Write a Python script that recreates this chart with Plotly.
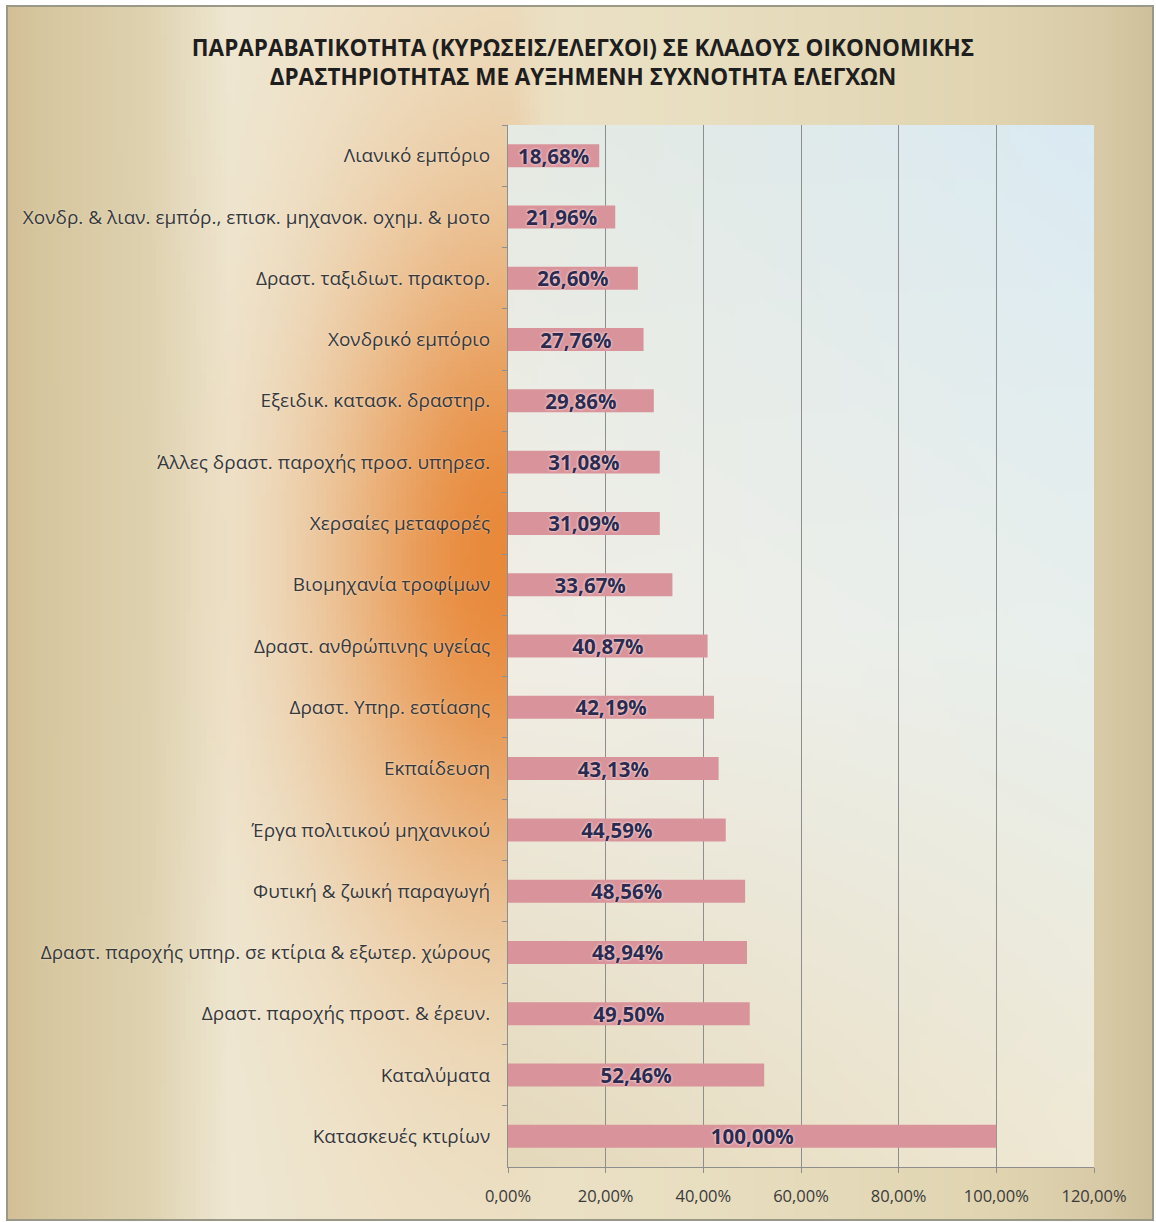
import numpy as np
import plotly.graph_objects as go

# ---------------- data ----------------
categories = [
    "Λιανικό εμπόριο",
    "Χονδρ. & λιαν. εμπόρ., επισκ. μηχανοκ. οχημ. & μοτο",
    "Δραστ. ταξιδιωτ. πρακτορ.",
    "Χονδρικό εμπόριο",
    "Εξειδικ. κατασκ. δραστηρ.",
    "Άλλες δραστ. παροχής προσ. υπηρεσ.",
    "Χερσαίες μεταφορές",
    "Βιομηχανία τροφίμων",
    "Δραστ. ανθρώπινης υγείας",
    "Δραστ. Υπηρ. εστίασης",
    "Εκπαίδευση",
    "Έργα πολιτικού μηχανικού",
    "Φυτική & ζωική παραγωγή",
    "Δραστ. παροχής υπηρ. σε κτίρια & εξωτερ. χώρους",
    "Δραστ. παροχής προστ. & έρευν.",
    "Καταλύματα",
    "Κατασκευές κτιρίων",
]
values = [18.68, 21.96, 26.60, 27.76, 29.86, 31.08, 31.09, 33.67, 40.87,
          42.19, 43.13, 44.59, 48.56, 48.94, 49.50, 52.46, 100.00]
tick_values = [0, 20, 40, 60, 80, 100, 120]
tick_labels = ["0,00%", "20,00%", "40,00%", "60,00%", "80,00%", "100,00%", "120,00%"]
title_text = ("ΠΑΡΑΡΑΒΑΤΙΚΟΤΗΤΑ (ΚΥΡΩΣΕΙΣ/ΕΛΕΓΧΟΙ) ΣΕ ΚΛΑΔΟΥΣ ΟΙΚΟΝΟΜΙΚΗΣ<br>"
              "ΔΡΑΣΤΗΡΙΟΤΗΤΑΣ ΜΕ ΑΥΞΗΜΕΝΗ ΣΥΧΝΟΤΗΤΑ ΕΛΕΓΧΩΝ")
value_labels = [f"{v:.2f}".replace(".", ",") + "%" for v in values]

# ---------------- geometry (pixels) ----------------
W, H = 1156, 1222
PL, PR, PT, PB = 508, 1094, 125, 1167
FONT = "Open Sans"


def profile(xs, pts):
    px = [p[0] for p in pts]
    return np.stack([np.interp(xs, px, [p[1][c] for p in pts]) for c in range(3)], axis=-1)


# ---------- decorative background (chart area) ----------
BX0, BX1, BY0, BY1 = 7, 1153, 6, 1220
nbx, nby = 230, 243
dxb = (BX1 - BX0) / nbx
dyb = (BY1 - BY0) / nby
xc = BX0 + (np.arange(nbx) + 0.5) * dxb
yc = BY0 + (np.arange(nby) + 0.5) * dyb
base = profile(xc, [
    (7, (210, 190, 150)), (40, (214, 198, 158)), (150, (222, 210, 176)),
    (230, (238, 231, 210)), (400, (238, 226, 200)), (700, (232, 222, 192)),
    (1000, (224, 212, 176)), (1100, (216, 202, 166)), (1153, (206, 192, 154)),
])
bg = np.broadcast_to(base[None, :, :], (nby, nbx, 3)).astype(float).copy()
ddx = np.where(xc <= 505, (xc - 505) / 175, (xc - 505) / 30)
ddy = (yc - 560) / 340
w = 0.97 * np.exp(-(ddx[None, :] ** 2) - (ddy[:, None] ** 2))
orange = np.array([232, 134, 54], dtype=float)
bg = bg * (1 - w[..., None]) + orange * w[..., None]
bg = np.clip(bg, 0, 255).round().astype(int)

# ---------- decorative background (plot area) ----------
npx, npy = 98, 174
xp = (np.arange(npx) + 0.5) / npx
yp = (np.arange(npy) + 0.5) / npy
TL, TR = np.array([229, 234, 226.]), np.array([218, 234, 243.])
ML, MR = np.array([241, 238, 230.]), np.array([232, 239, 236.])
BL, BR = np.array([228, 216, 186.]), np.array([239, 232, 212.])
top = TL[None] * (1 - xp[:, None]) + TR[None] * xp[:, None]
mid = ML[None] * (1 - xp[:, None]) + MR[None] * xp[:, None]
bot = BL[None] * (1 - xp[:, None]) + BR[None] * xp[:, None]
pa = np.zeros((npy, npx, 3))
for j, t in enumerate(yp):
    if t < 0.5:
        s = t / 0.5
        pa[j] = top * (1 - s) + mid * s
    else:
        s = (t - 0.5) / 0.5
        pa[j] = mid * (1 - s) + bot * s
pa = np.clip(pa, 0, 255).round().astype(int)
dxp = (PR - PL) / npx
dyp = (PB - PT) / npy

fig = go.Figure()
fig.add_trace(go.Image(z=bg.tolist(), x0=BX0 + dxb / 2, dx=dxb, y0=BY0 + dyb / 2, dy=dyb,
                       xaxis="x", yaxis="y", hoverinfo="skip"))
fig.add_trace(go.Image(z=pa.tolist(), x0=PL + dxp / 2, dx=dxp, y0=PT + dyp / 2, dy=dyp,
                       xaxis="x", yaxis="y", hoverinfo="skip"))

fig.add_trace(go.Bar(
    x=values, y=categories, orientation="h", xaxis="x2", yaxis="y2",
    marker=dict(color="#d9939a", line=dict(width=0)),
    width=0.375,
    text=value_labels, textposition="inside", insidetextanchor="middle",
    constraintext="none", textangle=0, cliponaxis=False,
    textfont=dict(family=FONT, size=20.5, color="#2c2a4e", weight="bold",
                  shadow="0px 0px 3px #ffffff"),
    hoverinfo="skip",
))

grid = "#8e8e8e"
fig.update_layout(
    width=W, height=H,
    margin=dict(l=0, r=0, t=0, b=0, pad=0, autoexpand=False),
    paper_bgcolor="#ffffff",
    plot_bgcolor="rgba(0,0,0,0)",
    showlegend=False,
    xaxis=dict(domain=[0, 1], range=[0, W], visible=False, fixedrange=True,
               automargin=False, constrain="range"),
    yaxis=dict(domain=[0, 1], range=[H, 0], autorange=False, visible=False, fixedrange=True,
               automargin=False, scaleanchor=False, constrain="range"),
    xaxis2=dict(
        domain=[PL / W, PR / W], range=[0, 120], anchor="y2", automargin=False,
        tickvals=tick_values, ticktext=tick_labels,
        showgrid=True, gridcolor=grid, gridwidth=1,
        showline=True, linecolor=grid, linewidth=1,
        ticks="outside", ticklen=5, tickcolor=grid,
        zeroline=False, ticklabelstandoff=9,
        tickfont=dict(family=FONT, size=16.5, color="#3a3a3a"),
    ),
    yaxis2=dict(
        domain=[1 - PB / H, 1 - PT / H], anchor="x2", automargin=False,
        type="category", categoryorder="array", categoryarray=categories,
        autorange="reversed",
        showgrid=False, showline=True, linecolor=grid, linewidth=1,
        ticks="outside", tickson="boundaries", ticklen=5, tickcolor=grid,
        ticklabelstandoff=13,
        tickfont=dict(family=FONT, size=19, color="#383838",
                      shadow="0px 0px 2px rgba(255,255,255,0.6)"),
    ),
    title=dict(
        text=title_text, x=583 / W, xanchor="center", xref="paper",
        y=1 - 56 / H, yanchor="middle", yref="paper", automargin=False,
        font=dict(family=FONT, size=22.5, color="#1e1e1e", weight="bold"),
    ),
    shapes=[dict(type="rect", xref="x", yref="y", x0=BX0, x1=BX1, y0=BY0, y1=BY1,
                 line=dict(color="#9a9886", width=2), layer="above")],
)

fig.write_html("out.html", config={"displayModeBar": False},
               post_script="document.body.style.margin='0';")
